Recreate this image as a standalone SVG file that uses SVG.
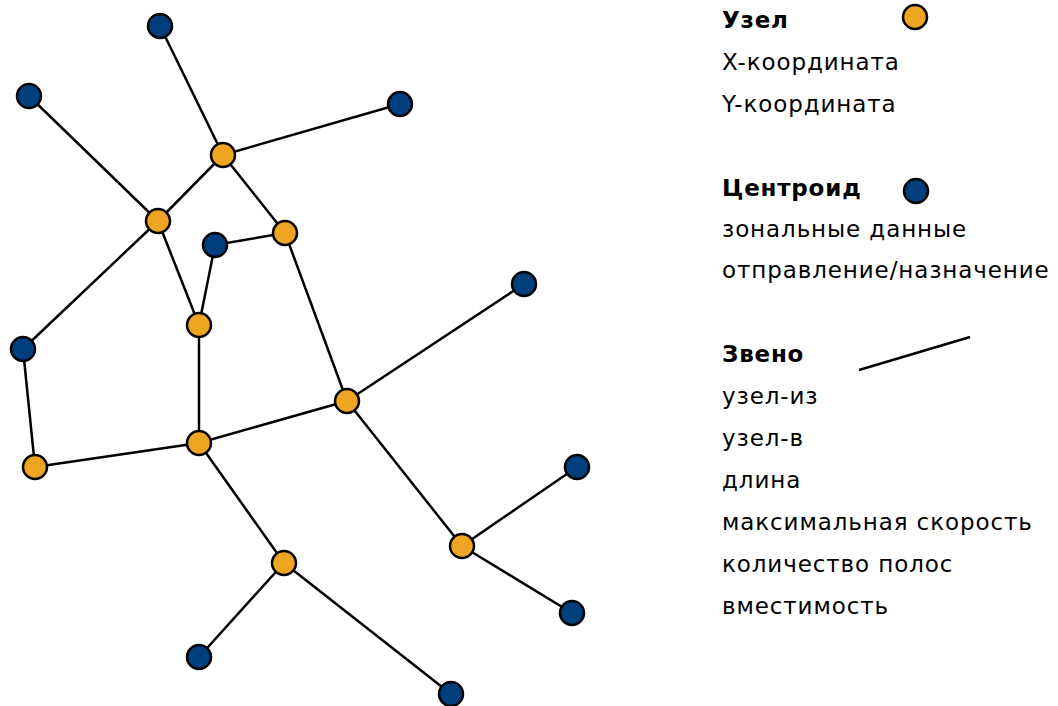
<svg xmlns="http://www.w3.org/2000/svg" width="1058" height="706" viewBox="0 0 1058 706">
<style>
.edge{stroke:#000;stroke-width:2.5;fill:none}
.node{fill:#EEA521;stroke:#000;stroke-width:2.5}
.cent{fill:#003E7E;stroke:#000;stroke-width:2.5}
text{font-family:"DejaVu Sans","Liberation Sans",sans-serif;font-size:23px;letter-spacing:0.9px;fill:#000}
.h{font-weight:bold;letter-spacing:0.8px}
</style>
<rect width="1058" height="706" fill="#fff"/>
<g id="connectors">
<line class="edge" x1="160" y1="26" x2="223" y2="155"/>
<line class="edge" x1="223" y1="155" x2="400" y2="104"/>
<line class="edge" x1="223" y1="155" x2="158" y2="221"/>
<line class="edge" x1="223" y1="155" x2="285" y2="233"/>
<line class="edge" x1="29" y1="96" x2="158" y2="221"/>
<line class="edge" x1="158" y1="221" x2="23" y2="349"/>
<line class="edge" x1="158" y1="221" x2="199" y2="325"/>
<line class="edge" x1="215" y1="245" x2="285" y2="233"/>
<line class="edge" x1="215" y1="245" x2="199" y2="325"/>
<line class="edge" x1="285" y1="233" x2="347" y2="401"/>
<line class="edge" x1="199" y1="325" x2="199" y2="443"/>
<line class="edge" x1="199" y1="443" x2="347" y2="401"/>
<line class="edge" x1="347" y1="401" x2="524" y2="284"/>
<line class="edge" x1="347" y1="401" x2="462" y2="546"/>
<line class="edge" x1="23" y1="349" x2="35" y2="467"/>
<line class="edge" x1="35" y1="467" x2="199" y2="443"/>
<line class="edge" x1="199" y1="443" x2="284" y2="563"/>
<line class="edge" x1="284" y1="563" x2="199" y2="657"/>
<line class="edge" x1="284" y1="563" x2="451" y2="694"/>
<line class="edge" x1="462" y1="546" x2="577" y2="467"/>
<line class="edge" x1="462" y1="546" x2="572" y2="613"/>
</g>
<g id="centroid-1"><circle class="cent" cx="160" cy="26" r="12"/></g>
<g id="centroid-2"><circle class="cent" cx="29" cy="96" r="12"/></g>
<g id="centroid-3"><circle class="cent" cx="400" cy="104" r="12"/></g>
<g id="centroid-4"><circle class="cent" cx="215" cy="245" r="12"/></g>
<g id="centroid-5"><circle class="cent" cx="524" cy="284" r="12"/></g>
<g id="centroid-6"><circle class="cent" cx="23" cy="349" r="12"/></g>
<g id="centroid-7"><circle class="cent" cx="577" cy="467" r="12"/></g>
<g id="centroid-8"><circle class="cent" cx="572" cy="613" r="12"/></g>
<g id="centroid-9"><circle class="cent" cx="199" cy="657" r="12"/></g>
<g id="centroid-10"><circle class="cent" cx="451" cy="694" r="12"/></g>
<g id="node-1"><circle class="node" cx="223" cy="155" r="12"/></g>
<g id="node-2"><circle class="node" cx="158" cy="221" r="12"/></g>
<g id="node-3"><circle class="node" cx="285" cy="233" r="12"/></g>
<g id="node-4"><circle class="node" cx="199" cy="325" r="12"/></g>
<g id="node-5"><circle class="node" cx="347" cy="401" r="12"/></g>
<g id="node-6"><circle class="node" cx="199" cy="443" r="12"/></g>
<g id="node-7"><circle class="node" cx="35" cy="467" r="12"/></g>
<g id="node-8"><circle class="node" cx="462" cy="546" r="12"/></g>
<g id="node-9"><circle class="node" cx="284" cy="563" r="12"/></g>
<g id="legend-node">
<text class="h" x="722" y="28">Узел</text>
<circle class="node" cx="915" cy="17" r="12"/>
<text x="722" y="70">X-координата</text>
<text x="722" y="112">Y-координата</text>
</g>
<g id="legend-centroid">
<text class="h" x="722" y="196">Центроид</text>
<circle class="cent" cx="916" cy="191" r="12"/>
<text x="722" y="237">зональные данные</text>
<text x="722" y="278">отправление/назначение</text>
</g>
<g id="legend-link">
<text class="h" x="722" y="362">Звено</text>
<line class="edge" x1="859" y1="370" x2="970" y2="337"/>
<text x="722" y="404">узел-из</text>
<text x="722" y="446">узел-в</text>
<text x="722" y="488">длина</text>
<text x="722" y="530">максимальная скорость</text>
<text x="722" y="572">количество полос</text>
<text x="722" y="614">вместимость</text>
</g>
</svg>
